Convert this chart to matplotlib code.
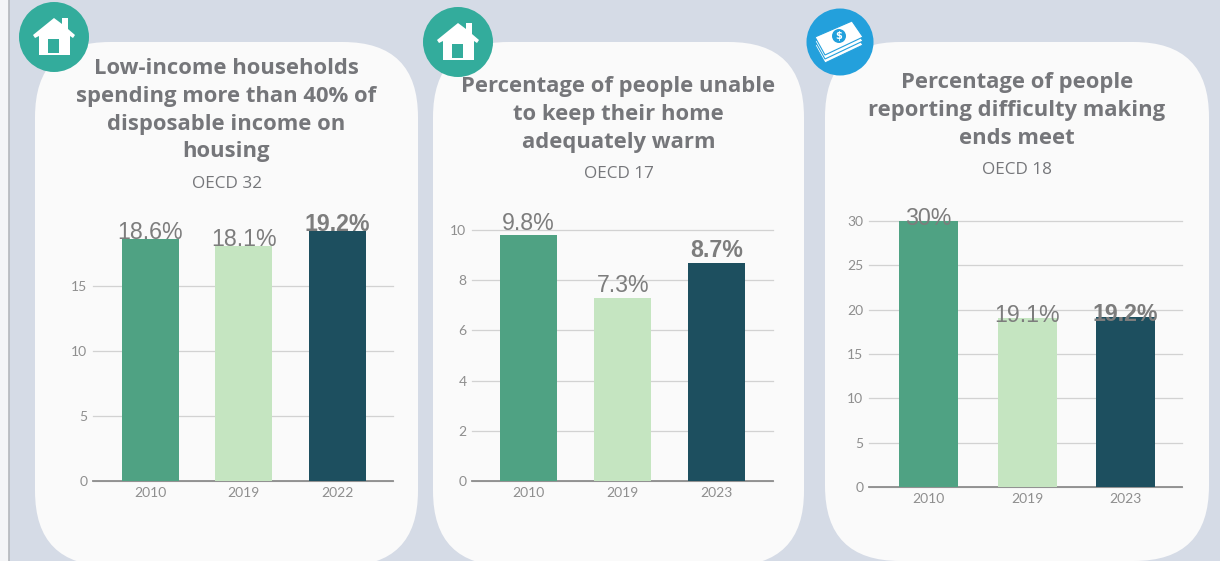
import matplotlib
matplotlib.use('Agg')
import matplotlib.pyplot as plt
from matplotlib.patches import FancyBboxPatch, Circle, Polygon, Rectangle

W, H = 1220, 561

years_a = ['2010', '2019', '2022']
years_b = ['2010', '2019', '2023']
years_c = ['2010', '2019', '2023']
values_a = [18.6, 18.1, 19.2]
values_b = [9.8, 7.3, 8.7]
values_c = [30, 19.1, 19.2]
labels_a = ['18.6%', '18.1%', '19.2%']
labels_b = ['9.8%', '7.3%', '8.7%']
labels_c = ['30%', '19.1%', '19.2%']
ticks_a = [0, 5, 10, 15]
ticks_b = [0, 2, 4, 6, 8, 10]
ticks_c = [0, 5, 10, 15, 20, 25, 30]
title_a = 'Low-income households\nspending more than 40% of\ndisposable income on\nhousing'
title_b = 'Percentage of people unable\nto keep their home\nadequately warm'
title_c = 'Percentage of people\nreporting difficulty making\nends meet'
sub_a = 'OECD 32'
sub_b = 'OECD 17'
sub_c = 'OECD 18'

bar_colors = ['#4FA283', '#C5E5C1', '#1D4F5F']
text_grey = '#75767A'

fig = plt.figure(figsize=(12.2, 5.61), dpi=100, facecolor='#D5DBE6')

# page layer, pixel coordinates
bg = fig.add_axes([0, 0, 1, 1], zorder=0)
bg.set_xlim(0, W)
bg.set_ylim(H, 0)
bg.axis('off')
bg.add_patch(Rectangle((0, 0), 9, H, color='#F4F5F7', lw=0))
bg.plot([9, 9], [0, H], color='#B4B7BC', lw=1.2)


def card(x0, x1, y0, y1):
    bg.add_patch(FancyBboxPatch((x0, y0), x1 - x0, y1 - y0,
                                boxstyle='round,pad=0,rounding_size=75',
                                fc='#FAFAFA', ec='none'))


card(35, 418, 42, 566)
card(433, 804, 42, 566)
card(825, 1209, 42, 561)


def panel(left, right, y0, y_top, ymax, first, step, width, years, values, labels, ticks, lift):
    ax = fig.add_axes([left / W, 1 - y0 / H, (right - left) / W, (y0 - y_top) / H], zorder=1)
    ax.patch.set_alpha(0)
    ax.set_xlim((left - first) / step, (right - first) / step)
    ax.set_ylim(0, ymax)
    xs = list(range(len(values)))
    ax.bar(xs, values, width=width / step, color=bar_colors, zorder=3)
    ax.set_xticks(xs, years)
    ax.set_yticks(ticks)
    ax.grid(axis='y', color='#D2D2D2', lw=0.9, zorder=1)
    ax.set_axisbelow(True)
    for g in ax.get_ygridlines():
        g.set_clip_on(False)
    for s in ['top', 'right', 'left']:
        ax.spines[s].set_visible(False)
    ax.spines['bottom'].set_color('#8C8C8C')
    ax.spines['bottom'].set_linewidth(1.3)
    ax.tick_params(axis='both', length=0, labelsize=10, labelcolor='#8E8E8E')
    ax.tick_params(axis='x', pad=4)
    ax.tick_params(axis='y', pad=4)
    for lab in ax.get_xticklabels() + ax.get_yticklabels():
        lab.set_family('Lato')
    for i, (v, t) in enumerate(zip(values, labels)):
        last = i == len(values) - 1
        ax.annotate(t, (i, v), xytext=(0, lift * 0.72), textcoords='offset points',
                    ha='center', va='baseline', family='Liberation Sans',
                    fontsize=16.7, fontweight='bold' if last else 'normal',
                    color='#7D7D7D', zorder=5, annotation_clip=False)
    return ax


panel(93, 393, 481, 221, 20, 150, 93.8, 57, years_a, values_a, labels_a, ticks_a, 0)
panel(472, 773, 481, 230, 10, 528.5, 94.2, 57, years_b, values_b, labels_b, ticks_b, 5.5)
panel(869, 1182, 487, 221, 30, 928.5, 98.5, 59, years_c, values_c, labels_c, ticks_c, -4)

# titles and icons on top
top = fig.add_axes([0, 0, 1, 1], zorder=2)
top.set_xlim(0, W)
top.set_ylim(H, 0)
top.axis('off')


def heading(cx, y_first, title, sub, y_sub):
    for i, line in enumerate(title.split('\n')):
        top.text(cx, y_first + i * 27.8, line, ha='center', va='center', family='Open Sans',
                 fontsize=15.8, fontweight='bold', color=text_grey)
    top.text(cx, y_sub, sub, ha='center', va='center', family='Open Sans',
             fontsize=12.3, color=text_grey)


heading(226.5, 68.5, title_a, sub_a, 183.5)
heading(618.5, 86.5, title_b, sub_b, 173.5)
heading(1017, 82.5, title_c, sub_c, 169.5)


def house(cx, cy):
    top.add_patch(Circle((cx, cy), 35, fc='#33AC9C', ec='none'))
    # dx/dy relative to icon centre
    top.add_patch(Polygon([(cx - 21, cy - 2), (cx, cy - 19), (cx + 8, cy - 13), (cx + 8, cy - 19),
                           (cx + 14, cy - 19), (cx + 14, cy - 8), (cx + 21, cy - 2), (cx + 19, cy + 1),
                           (cx + 16, cy - 1), (cx + 16, cy + 18), (cx - 15, cy + 18), (cx - 15, cy - 1),
                           (cx - 19, cy + 1)], fc='white', ec='none'))
    top.add_patch(Rectangle((cx - 6, cy + 2), 11, 14, fc='#33AC9C', ec='none'))


def money(cx, cy):
    top.add_patch(Circle((cx, cy), 33.5, fc='#23A0DC', ec='none'))
    note = [(-25, -5), (12, -21), (23, -5), (-15, 13)]
    for d in [8, 4, 0]:
        top.add_patch(Polygon([(cx + a, cy + b + d) for a, b in note],
                              fc='white', ec='#23A0DC', lw=0.8))
    top.add_patch(Circle((cx - 1, cy - 6), 7, fc='#23A0DC', ec='none'))
    top.text(cx - 1, cy - 6, '$', ha='center', va='center', fontsize=7, color='white', fontweight='bold')


house(54, 37)
house(458, 42)
money(840, 42)

fig.savefig('out.png', dpi=100, facecolor=fig.get_facecolor())
